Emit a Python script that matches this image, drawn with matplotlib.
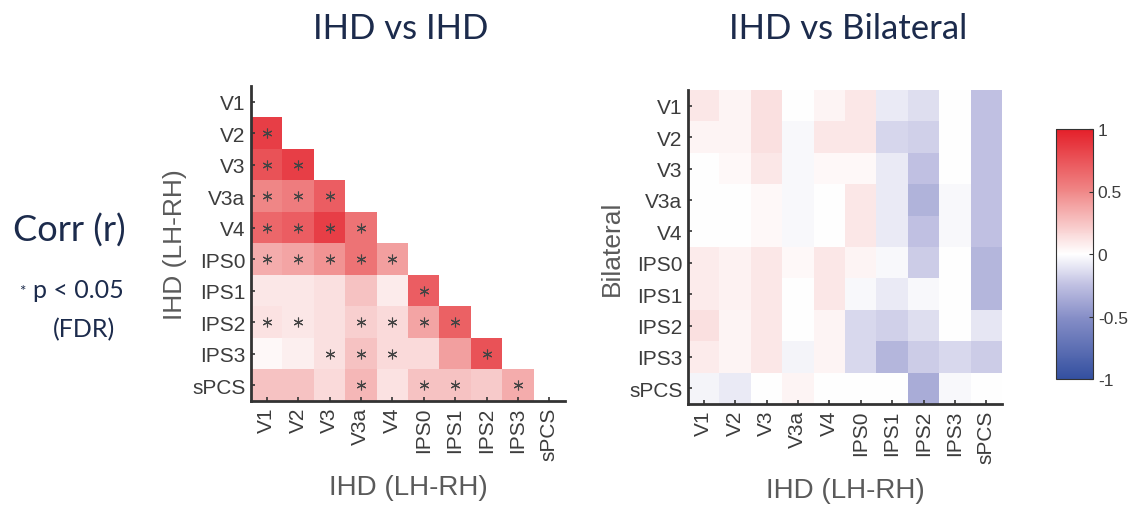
import numpy as np
import matplotlib
matplotlib.use("Agg")
import matplotlib.pyplot as plt
from matplotlib.colors import LinearSegmentedColormap
from matplotlib.ticker import FuncFormatter

plt.rcParams['font.family'] = ['Liberation Sans', 'DejaVu Sans']
plt.rcParams['axes.unicode_minus'] = False

areas = ["V1", "V2", "V3", "V3a", "V4", "IPS0", "IPS1", "IPS2", "IPS3", "sPCS"]

# IHD vs IHD, lower triangle only (row area vs earlier column areas)
ihd_lower = [
    [],
    [0.85],
    [0.75, 0.85],
    [0.50, 0.55, 0.70],
    [0.65, 0.70, 0.85, 0.60],
    [0.35, 0.38, 0.45, 0.60, 0.40],
    [0.10, 0.10, 0.13, 0.25, 0.08, 0.70],
    [0.12, 0.10, 0.13, 0.20, 0.15, 0.38, 0.68],
    [0.03, 0.07, 0.13, 0.25, 0.15, 0.15, 0.40, 0.75],
    [0.25, 0.25, 0.15, 0.30, 0.12, 0.25, 0.25, 0.22, 0.35],
]

# significant cells (row area, column area), p < 0.05 FDR
ihd_sig = [
    ("V2", "V1"),
    ("V3", "V1"), ("V3", "V2"),
    ("V3a", "V1"), ("V3a", "V2"), ("V3a", "V3"),
    ("V4", "V1"), ("V4", "V2"), ("V4", "V3"), ("V4", "V3a"),
    ("IPS0", "V1"), ("IPS0", "V2"), ("IPS0", "V3"), ("IPS0", "V3a"), ("IPS0", "V4"),
    ("IPS1", "IPS0"),
    ("IPS2", "V1"), ("IPS2", "V2"), ("IPS2", "V3a"), ("IPS2", "V4"), ("IPS2", "IPS0"), ("IPS2", "IPS1"),
    ("IPS3", "V3"), ("IPS3", "V3a"), ("IPS3", "V4"), ("IPS3", "IPS2"),
    ("sPCS", "V3a"), ("sPCS", "IPS0"), ("sPCS", "IPS1"), ("sPCS", "IPS3"),
]

# IHD (columns) vs Bilateral (rows)
bilat = [
    [0.10, 0.04, 0.13, 0.00, 0.04, 0.10, -0.08, -0.13, 0.00, -0.25],
    [0.04, 0.04, 0.13, -0.03, 0.10, 0.10, -0.16, -0.18, 0.00, -0.25],
    [0.00, 0.03, 0.10, -0.03, 0.03, 0.03, -0.08, -0.25, 0.00, -0.25],
    [0.00, 0.00, 0.03, -0.03, 0.00, 0.10, -0.08, -0.32, -0.03, -0.25],
    [0.00, 0.00, 0.03, -0.03, 0.00, 0.10, -0.08, -0.25, -0.03, -0.25],
    [0.08, 0.05, 0.10, 0.03, 0.10, 0.04, -0.03, -0.20, 0.00, -0.30],
    [0.08, 0.05, 0.10, 0.00, 0.10, -0.03, -0.08, -0.03, 0.00, -0.30],
    [0.13, 0.04, 0.10, 0.00, 0.04, -0.15, -0.18, -0.13, 0.00, -0.10],
    [0.08, 0.04, 0.10, -0.04, 0.04, -0.15, -0.30, -0.20, -0.15, -0.20],
    [-0.04, -0.08, 0.00, 0.04, 0.00, 0.00, 0.00, -0.35, -0.03, 0.00],
]

cbar_ticks = [-1, -0.5, 0, 0.5, 1]

cmap = LinearSegmentedColormap.from_list("bwr_matlab", [
    (0.0, "#3450a0"), (0.25, "#8890c8"), (0.375, "#c0c0e2"), (0.5, "#ffffff"),
    (0.625, "#f7c4c4"), (0.75, "#f08888"), (1.0, "#e4202a")])

n = len(areas)
M1 = np.full((n, n), np.nan)
for i, row in enumerate(ihd_lower):
    for j, v in enumerate(row):
        M1[i, j] = v
M2 = np.array(bilat)

W, H = 1132, 506
fig = plt.figure(figsize=(W / 100, H / 100), dpi=100)

def px_axes(x0, y0, x1, y1):
    return fig.add_axes([x0 / W, 1 - y1 / H, (x1 - x0) / W, (y1 - y0) / H])

tick_col = "#3c3c3c"
lab_col = "#5a5a5a"
navy = "#1c2b4c"

def style(ax, ylabel):
    ax.set_xticks(range(n))
    ax.set_yticks(range(n))
    ax.set_xticklabels(areas, rotation=90, fontsize=15, color=tick_col)
    ax.set_yticklabels(areas, fontsize=15, color=tick_col)
    ax.tick_params(direction="in", length=3, width=1.2, color="#333333", pad=4)
    for s in ["top", "right"]:
        ax.spines[s].set_visible(False)
    for s in ["left", "bottom"]:
        ax.spines[s].set_linewidth(2)
        ax.spines[s].set_color("#333333")
    ax.set_xlabel("IHD (LH-RH)", fontsize=20, color=lab_col, labelpad=10)
    ax.set_ylabel(ylabel, fontsize=19, color=lab_col, labelpad=4)

ax1 = px_axes(251, 87, 565, 402)
im = ax1.imshow(M1, cmap=cmap, vmin=-1, vmax=1, aspect="auto", interpolation="nearest")
rows = [areas.index(r) for r, c in ihd_sig]
cols = [areas.index(c) for r, c in ihd_sig]
ax1.plot(cols, rows, ls="none", marker=(6, 2, 0), ms=7, mew=0.8, color="#444444")
style(ax1, "IHD (LH-RH)")

ax2 = px_axes(688, 91, 1002, 405)
ax2.imshow(M2, cmap=cmap, vmin=-1, vmax=1, aspect="auto", interpolation="nearest")
style(ax2, "Bilateral")

cax = px_axes(1056, 130, 1093, 380)
cb = fig.colorbar(im, cax=cax, ticks=cbar_ticks)
cb.outline.set_linewidth(0.8)
cb.outline.set_edgecolor("#333333")
cax.tick_params(direction="in", length=3, labelsize=12.5, labelcolor=tick_col, color="#333333")
cax.yaxis.set_major_formatter(FuncFormatter(lambda v, p: "%g" % v))

fig.text(401 / W, 1 - 29 / H, "IHD vs IHD", fontsize=25, color=navy, family="Lato",
         ha="center", va="center")
fig.text(848 / W, 1 - 29 / H, "IHD vs Bilateral", fontsize=25, color=navy, family="Lato",
         ha="center", va="center")
fig.text(69 / W, 1 - 231 / H, "Corr (r)", fontsize=26, color=navy, family="Lato",
         ha="center", va="center")
fig.text(22 / W, 1 - 292 / H, "*", fontsize=11, color=navy, family="Lato",
         ha="center", va="center")
fig.text(78 / W, 1 - 290 / H, "p < 0.05", fontsize=18, color=navy, family="Lato",
         ha="center", va="center")
fig.text(84 / W, 1 - 330 / H, "(FDR)", fontsize=18, color=navy, family="Lato",
         ha="center", va="center")

fig.savefig("out.png", dpi=100, facecolor="white")
